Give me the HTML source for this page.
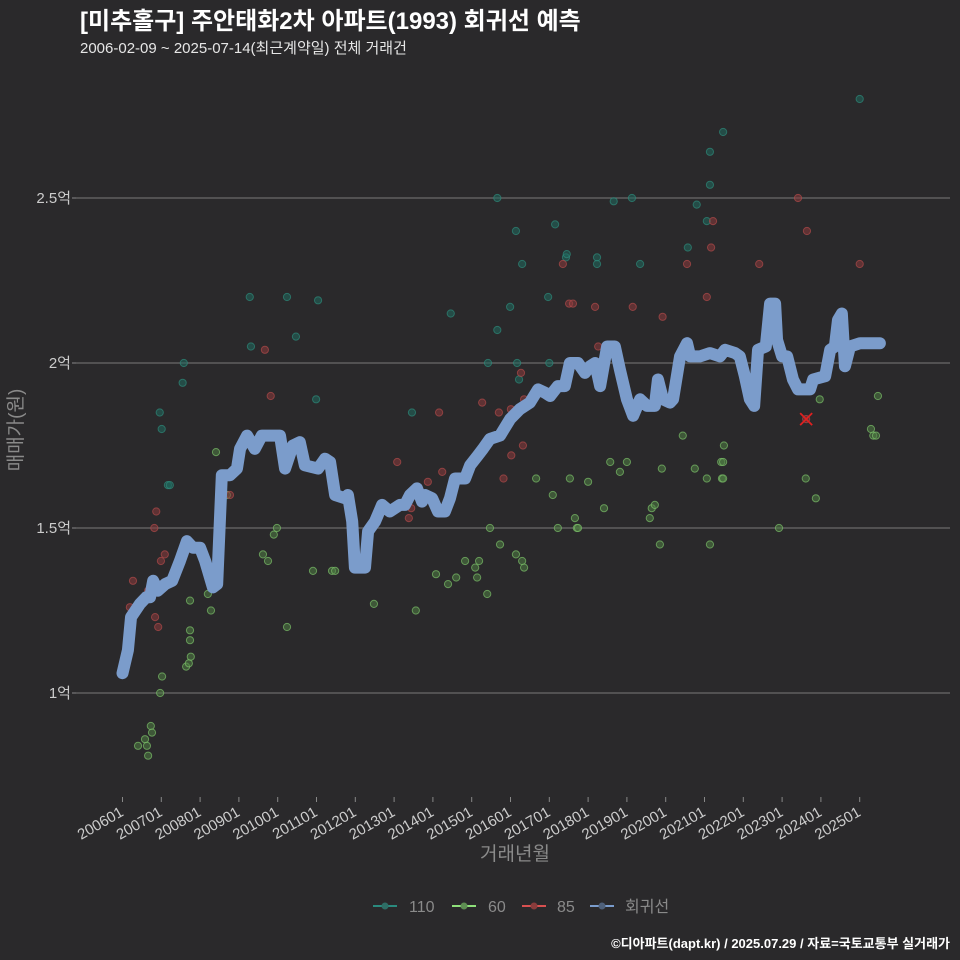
<!DOCTYPE html>
<html><head><meta charset="utf-8">
<style>
html,body{margin:0;padding:0;background:#2a292b;overflow:hidden;width:960px;height:960px;}
svg{display:block;}
svg text{font-family:"Liberation Sans","Noto Sans CJK KR",sans-serif;}
</style></head>
<body>
<svg id="chart" width="960" height="960" xmlns="http://www.w3.org/2000/svg">
<rect width="960" height="960" fill="#2a292b"/>
<text x="80" y="29" fill="#ffffff" font-size="24" font-weight="bold">[미추홀구] 주안태화2차 아파트(1993) 회귀선 예측</text>
<text x="80" y="53" fill="#e6e6e6" font-size="15">2006-02-09 ~ 2025-07-14(최근계약일) 전체 거래건</text>
<g id="grid"></g>
<g id="yaxis"></g>
<g id="xaxis"></g>
<g id="points"></g>
<g id="line"></g>
<text transform="translate(22,430) rotate(-90)" text-anchor="middle" fill="#8a8a8a" font-size="19">매매가(원)</text>
<text x="515" y="860" text-anchor="middle" fill="#8a8a8a" font-size="19">거래년월</text>
<g>
<g><line x1="373" y1="906" x2="397" y2="906" stroke="#2a8a7e" stroke-width="2"/><circle cx="385" cy="906" r="3.5" fill="#2e6e66"/><text x="409" y="912" fill="#8a8a8a" font-size="16">110</text></g>
<g><line x1="452" y1="906" x2="476" y2="906" stroke="#8ee07a" stroke-width="2"/><circle cx="464" cy="906" r="3.5" fill="#5e8e52"/><text x="488" y="912" fill="#8a8a8a" font-size="16">60</text></g>
<g><line x1="522" y1="906" x2="546" y2="906" stroke="#d85050" stroke-width="2"/><circle cx="534" cy="906" r="3.5" fill="#8a3c3c"/><text x="557" y="912" fill="#8a8a8a" font-size="16">85</text></g>
<g><line x1="590" y1="906" x2="614" y2="906" stroke="#7a9ccc" stroke-width="2"/><circle cx="602" cy="906" r="3.5" fill="#4e607a"/><text x="625" y="912" fill="#8a8a8a" font-size="16">회귀선</text></g>
</g>
<text x="950" y="948" text-anchor="end" fill="#ffffff" font-size="13" font-weight="bold">©디아파트(dapt.kr) / 2025.07.29 / 자료=국토교통부 실거래가</text>
</svg>
<script>
const yTicks=[1,1.5,2,2.5];
const yTickLabels=["1억","1.5억","2억","2.5억"];
const xTickYears=[2006,2007,2008,2009,2010,2011,2012,2013,2014,2015,2016,2017,2018,2019,2020,2021,2022,2023,2024,2025];
const xTickLabels=["200601","200701","200801","200901","201001","201101","201201","201301","201401","201501","201601","201701","201801","201901","202001","202101","202201","202301","202401","202501"];
const lineDates=[2006.0,2006.14,2006.22,2006.45,2006.61,2006.71,2006.79,2006.91,2007.10,2007.28,2007.48,2007.66,2007.82,2008.0,2008.13,2008.33,2008.44,2008.56,2008.77,2008.95,2009.03,2009.21,2009.41,2009.59,2009.80,2010.06,2010.19,2010.39,2010.57,2010.70,2011.04,2011.22,2011.35,2011.48,2011.74,2011.81,2011.92,2011.99,2012.25,2012.33,2012.51,2012.69,2012.89,2013.15,2013.28,2013.41,2013.59,2013.72,2013.80,2013.98,2014.13,2014.31,2014.44,2014.57,2014.83,2014.96,2015.16,2015.29,2015.47,2015.73,2015.99,2016.24,2016.50,2016.71,2016.89,2017.02,2017.22,2017.40,2017.53,2017.74,2017.92,2018.05,2018.18,2018.31,2018.49,2018.69,2018.82,2019.00,2019.16,2019.34,2019.52,2019.72,2019.80,2019.93,2020.11,2020.19,2020.37,2020.55,2020.63,2020.88,2021.14,2021.40,2021.53,2021.79,2021.91,2022.04,2022.17,2022.28,2022.38,2022.58,2022.69,2022.82,2022.87,2023.00,2023.13,2023.28,2023.41,2023.72,2023.80,2024.11,2024.24,2024.36,2024.44,2024.54,2024.62,2024.75,2025.01,2025.52];
const lineValues=[1.06,1.13,1.23,1.27,1.29,1.29,1.34,1.31,1.33,1.34,1.40,1.46,1.44,1.44,1.40,1.32,1.33,1.66,1.66,1.68,1.74,1.78,1.74,1.78,1.78,1.78,1.68,1.75,1.76,1.69,1.68,1.71,1.70,1.60,1.59,1.60,1.52,1.38,1.38,1.49,1.52,1.57,1.55,1.57,1.57,1.60,1.62,1.58,1.60,1.59,1.55,1.55,1.59,1.65,1.65,1.69,1.72,1.74,1.77,1.78,1.83,1.86,1.88,1.92,1.91,1.90,1.93,1.93,2.00,2.00,1.97,1.99,2.00,1.93,2.05,2.05,1.98,1.89,1.84,1.89,1.87,1.87,1.95,1.89,1.88,1.89,2.02,2.06,2.02,2.02,2.03,2.02,2.04,2.03,2.02,1.96,1.89,1.87,2.04,2.05,2.18,2.18,2.07,2.02,2.02,1.95,1.92,1.92,1.95,1.96,2.04,2.05,2.13,2.15,1.99,2.05,2.06,2.06];
const d110=[2007.58,2007.55,2006.96,2007.01,2007.17,2007.22,2009.28,2009.31,2010.24,2010.47,2011.04,2010.99,2013.46,2014.46,2015.42,2015.66,2015.66,2015.99,2016.14,2016.17,2016.22,2016.30,2016.97,2017.00,2017.15,2017.43,2017.45,2018.23,2018.23,2018.66,2019.34,2019.13,2020.57,2020.80,2021.06,2021.14,2021.14,2021.48,2025.0];
const v110=[2.0,1.94,1.85,1.80,1.63,1.63,2.20,2.05,2.20,2.08,2.19,1.89,1.85,2.15,2.0,2.5,2.10,2.17,2.40,2.0,1.95,2.30,2.20,2.0,2.42,2.32,2.33,2.32,2.30,2.49,2.30,2.50,2.35,2.48,2.43,2.54,2.64,2.70,2.80];
const d85=[2006.27,2006.19,2006.66,2006.82,2006.87,2006.99,2007.09,2006.84,2006.92,2008.77,2009.67,2009.82,2013.08,2013.38,2013.44,2013.87,2014.16,2014.24,2015.27,2015.70,2015.82,2016.01,2016.27,2016.32,2017.35,2017.51,2017.61,2018.18,2018.26,2019.15,2019.92,2020.55,2021.06,2021.17,2021.22,2022.41,2023.41,2023.64,2023.62,2025.0,2016.02,2016.35];
const v85=[1.34,1.26,1.31,1.50,1.55,1.40,1.42,1.23,1.20,1.60,2.04,1.90,1.70,1.53,1.56,1.64,1.85,1.67,1.88,1.85,1.65,1.86,1.97,1.75,2.30,2.18,2.18,2.17,2.05,2.17,2.14,2.30,2.20,2.35,2.43,2.30,2.50,2.40,1.83,2.30,1.72,1.89];
const d60=[2006.40,2006.58,2006.63,2006.66,2006.73,2006.76,2006.97,2007.02,2007.64,2007.71,2007.74,2007.76,2007.74,2007.74,2008.20,2008.28,2008.41,2008.69,2009.62,2009.75,2009.90,2009.98,2010.24,2010.91,2011.40,2011.48,2012.48,2013.56,2014.08,2014.39,2014.60,2014.83,2015.09,2015.14,2015.19,2015.40,2015.47,2015.73,2016.14,2016.30,2016.35,2016.66,2017.09,2017.22,2017.53,2017.66,2017.71,2017.74,2018.00,2018.41,2018.57,2018.82,2019.00,2019.59,2019.64,2019.72,2019.85,2019.90,2020.44,2020.75,2021.06,2021.14,2021.43,2021.45,2021.48,2021.48,2021.50,2023.61,2023.87,2023.97,2025.29,2025.35,2025.42,2025.47,2022.92];
const v60=[0.84,0.86,0.84,0.81,0.90,0.88,1.00,1.05,1.08,1.09,1.19,1.11,1.16,1.28,1.30,1.25,1.73,1.60,1.42,1.40,1.48,1.50,1.20,1.37,1.37,1.37,1.27,1.25,1.36,1.33,1.35,1.40,1.38,1.35,1.40,1.30,1.50,1.45,1.42,1.40,1.38,1.65,1.60,1.50,1.65,1.53,1.50,1.50,1.64,1.56,1.70,1.67,1.70,1.53,1.56,1.57,1.45,1.68,1.78,1.68,1.65,1.45,1.70,1.65,1.70,1.65,1.75,1.65,1.59,1.89,1.80,1.78,1.78,1.90,1.50];

const NS="http://www.w3.org/2000/svg";
function xs(t){return 122.5+(t-2006)*38.8;}
function ys(v){return 693-(v-1)*330;}
function mk(tag,attrs,parent){const e=document.createElementNS(NS,tag);for(const k in attrs)e.setAttribute(k,attrs[k]);parent.appendChild(e);return e;}
const grid=document.getElementById('grid'),yax=document.getElementById('yaxis'),xax=document.getElementById('xaxis'),pts=document.getElementById('points'),lg=document.getElementById('line');
yTicks.forEach((v,i)=>{
  const l=mk('line',{x1:76,x2:950,y1:ys(v),y2:ys(v),stroke:'#6a6a6a','stroke-width':1.2},grid);
  
  
  const tk=mk('line',{x1:72,x2:76,y1:ys(v),y2:ys(v),stroke:'#888','stroke-width':1},yax);
  
  
  const t=mk('text',{x:71,y:ys(v)+5,'text-anchor':'end',fill:'#cccccc','font-size':15},yax);
  t.textContent=yTickLabels[i];
  
  
});
xTickYears.forEach((yr,i)=>{
  const x=xs(yr);
  const tk=mk('line',{x1:x,x2:x,y1:797,y2:802,stroke:'#888','stroke-width':1},xax);
  
  
  const t=mk('text',{transform:`translate(${x+2},815) rotate(-30)`,'text-anchor':'end',fill:'#cccccc','font-size':15},xax);
  t.textContent=xTickLabels[i];
  
  
});
function scatter(ds,vs,fill,stroke,name){
  ds.forEach((d,i)=>{
    const c=mk('circle',{cx:xs(d),cy:ys(vs[i]),r:3.6,fill:fill,stroke:stroke,'stroke-width':1,'fill-opacity':0.55,'stroke-opacity':0.7},pts);
    
    
  });
}
scatter(d110,v110,'#1f6a5e','#2e8a7a','point-110');
scatter(d60,v60,'#4e7e44','#7cc06a','point-60');
scatter(d85,v85,'#8a3a3c','#b04a4a','point-85');
const p=mk('polyline',{points:lineDates.map((d,i)=>xs(d)+','+ys(lineValues[i])).join(' '),fill:'none',stroke:'#7b9ccb','stroke-width':12,'stroke-linejoin':'round','stroke-linecap':'round'},lg);


const mx=xs(2023.62),my=ys(1.83);
const xm=mk('path',{d:`M${mx-6},${my-6}L${mx+6},${my+6}M${mx+6},${my-6}L${mx-6},${my+6}`,stroke:'#e02020','stroke-width':1.8},lg);


</script>
</body></html>
